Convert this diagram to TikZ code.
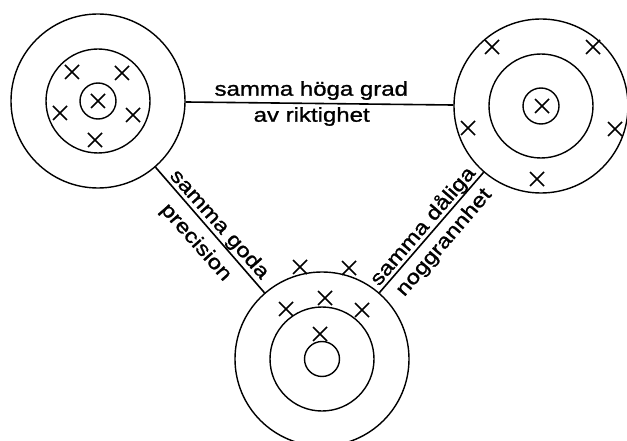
\documentclass[tikz,border=0pt]{standalone}
\usepackage{fontspec}
\newfontfamily\labfont[FakeStretch=1.2,FakeBold=1.2]{Liberation Sans}
\begin{document}
\begin{tikzpicture}[x=1pt,y=-1pt,
  ring/.style={draw, circle, inner sep=0pt, line width=1.4pt},
  link/.style={line width=1.6pt},
  lab/.style={inner sep=0pt, anchor=base, font=\labfont\fontsize{20}{24}\selectfont},
  xmark/.pic={\draw[line width=1.5pt] (-7,-7) -- (7,7) (-7,7) -- (7,-7);}]
\useasboundingbox (0,0) rectangle (627,441);
% targets (outer rings as nodes)
\node[ring, minimum size=174pt] (t1) at (98,101) {};
\node[ring, minimum size=104pt] (t1m) at (98,101) {};
\node[ring, minimum size=36pt] (t1i) at (98,101) {};
\node[ring, minimum size=174pt] (t2) at (541,106) {};
\node[ring, minimum size=104pt] (t2m) at (541,106) {};
\node[ring, minimum size=36pt] (t2i) at (541,106) {};
\node[ring, minimum size=174pt] (t3) at (322,359) {};
\node[ring, minimum size=104pt] (t3m) at (322,359) {};
\node[ring, minimum size=35pt] (t3i) at (322,359) {};
% connectors
\draw[link] (t1) -- (t2);
\draw[link] (t1) -- (t3);
\draw[link] (t3) -- (t2);
% crosses target 1
\pic at (98,101) {xmark};
\pic at (72,72) {xmark};
\pic at (122,73) {xmark};
\pic at (60,113) {xmark};
\pic at (133,115) {xmark};
\pic at (95,140) {xmark};
% crosses target 2
\pic at (542,106) {xmark};
\pic at (492,47) {xmark};
\pic at (593,47) {xmark};
\pic at (468,128) {xmark};
\pic at (615,129) {xmark};
\pic at (537,179) {xmark};
% crosses target 3
\pic at (300,267) {xmark};
\pic at (349,268) {xmark};
\pic at (286,309) {xmark};
\pic at (325,298) {xmark};
\pic at (362,310) {xmark};
\pic at (320,334) {xmark};
% labels
\node[lab] (l1) at (311.3,95.7) {samma höga grad};
\node[lab] (l2) at (311.7,121.7) {av riktighet};
\node[lab, rotate=-48.4] (l3) at (215.1,228.2) {samma goda};
\node[lab, rotate=-48.4] (l4) at (191.8,246.1) {precision};
\node[lab, rotate=49.3] (l5) at (427.5,230.2) {samma dåliga};
\node[lab, rotate=49.3] (l6) at (448.3,246.1) {noggrannhet};
\end{tikzpicture}
\end{document}
